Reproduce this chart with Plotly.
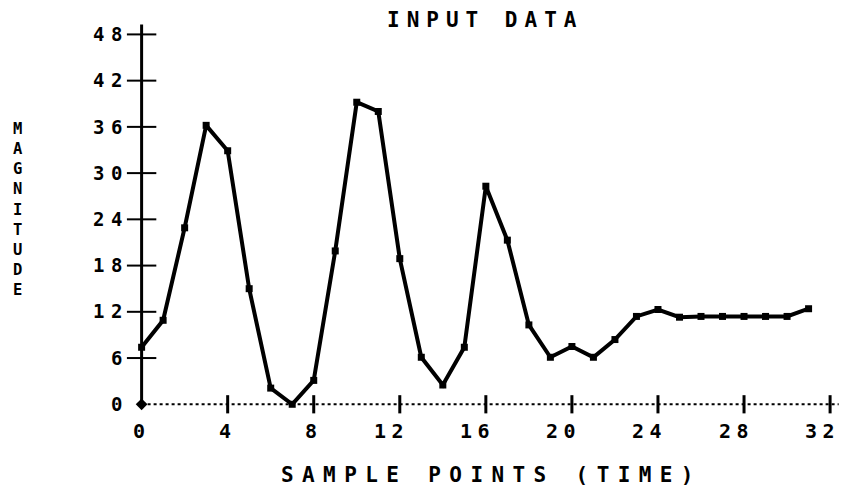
import plotly.graph_objects as go

# ---- data ----
sample_points = list(range(32))
magnitude = [7.4, 10.9, 22.9, 36.2, 32.9, 15.0, 2.1, 0.0, 3.1, 19.9,
             39.2, 38.0, 18.9, 6.1, 2.5, 7.4, 28.3, 21.3, 10.3, 6.1,
             7.5, 6.1, 8.4, 11.4, 12.3, 11.3, 11.4, 11.4, 11.4, 11.4,
             11.4, 12.4]
x_tick_vals = [0, 4, 8, 12, 16, 20, 24, 28, 32]
y_tick_vals = [0, 6, 12, 18, 24, 30, 36, 42, 48]
title_text = "INPUT DATA"
x_title_text = "SAMPLE POINTS (TIME)"
y_title_text = "MAGNITUDE"

FONT = "DejaVu Sans Mono"
W, H = 845, 490
ML, MR, MT, MB = 133, 2, 18.5, 67.5
XR = [-0.4, 32.6]
YR = [-2.3, 50]


def spaced(t, ls):
    return f'<span style="letter-spacing:{ls}px">{t}</span>'


def px_to_paper_x(px):
    return (px - ML) / (W - ML - MR)


def px_to_paper_y(py):
    return (H - MB - py) / (H - MT - MB)


fig = go.Figure()

# dotted x axis line
fig.add_trace(go.Scatter(x=[0, 32.4], y=[0, 0], mode="lines",
                         line=dict(color="black", width=2, dash="dot"),
                         hoverinfo="skip", showlegend=False, cliponaxis=False))
# solid y axis line
fig.add_trace(go.Scatter(x=[0, 0], y=[0, 49.3], mode="lines",
                         line=dict(color="black", width=3),
                         hoverinfo="skip", showlegend=False, cliponaxis=False))
# y tick marks (crossing)
fig.add_trace(go.Scatter(x=[0] * (len(y_tick_vals) - 1), y=y_tick_vals[1:],
                         mode="markers",
                         marker=dict(symbol="line-ew", size=21,
                                     line=dict(color="black", width=2)),
                         hoverinfo="skip", showlegend=False, cliponaxis=False))
# x tick marks (crossing)
fig.add_trace(go.Scatter(x=x_tick_vals[1:], y=[0] * (len(x_tick_vals) - 1),
                         mode="markers",
                         marker=dict(symbol="line-ns", size=13,
                                     line=dict(color="black", width=3)),
                         hoverinfo="skip", showlegend=False, cliponaxis=False))
# origin diamond
fig.add_trace(go.Scatter(x=[x_tick_vals[0]], y=[y_tick_vals[0]], mode="markers",
                         marker=dict(symbol="diamond", size=9, color="black"),
                         hoverinfo="skip", showlegend=False, cliponaxis=False))
# data
fig.add_trace(go.Scatter(x=sample_points, y=magnitude, mode="lines+markers",
                         line=dict(color="black", width=4),
                         marker=dict(symbol="square", size=7, color="black"),
                         showlegend=False, cliponaxis=False))

y_tick_text = [spaced(str(v), 6.5) for v in y_tick_vals]

fig.update_xaxes(range=XR, showgrid=False, zeroline=False, showline=False,
                 automargin=False, ticks="", showticklabels=False)
fig.update_yaxes(range=YR, showgrid=False, zeroline=False, showline=False,
                 automargin=False, ticks="", tickvals=y_tick_vals, ticktext=y_tick_text,
                 ticklabelstandoff=3,
                 tickfont=dict(family=FONT, size=19, color="black", weight="bold"))

annotations = []
# x tick labels: last digit centred under the tick (plotter style)
for v in x_tick_vals:
    annotations.append(dict(text=spaced(str(v), 5.5), x=v, y=0, xref="x", yref="y",
                            xanchor="right", yanchor="middle", xshift=11.5, yshift=-27,
                            showarrow=False,
                            font=dict(family=FONT, size=20, color="black", weight="bold")))
# title
annotations.append(dict(text=spaced(title_text, 7), x=px_to_paper_x(481 + 3.5),
                        y=px_to_paper_y(20), xref="paper", yref="paper",
                        xanchor="center", yanchor="middle", showarrow=False,
                        font=dict(family=FONT, size=21, color="black", weight="bold")))
# x title
annotations.append(dict(text=spaced(x_title_text, 8.4), x=px_to_paper_x(487.5 + 4.2),
                        y=px_to_paper_y(476), xref="paper", yref="paper",
                        xanchor="center", yanchor="middle", showarrow=False,
                        font=dict(family=FONT, size=21, color="black", weight="bold")))
# stacked y title
annotations.append(dict(text="<br>".join(y_title_text), x=px_to_paper_x(18),
                        y=px_to_paper_y(209), xref="paper", yref="paper",
                        xanchor="center", yanchor="middle", showarrow=False,
                        font=dict(family=FONT, size=15.5, color="black", weight="bold")))

fig.update_layout(width=W, height=H, margin=dict(l=ML, r=MR, t=MT, b=MB),
                  paper_bgcolor="white", plot_bgcolor="white",
                  annotations=annotations)

fig.write_html("out.html", config={"displayModeBar": False},
               post_script="document.body.style.margin='0';")
